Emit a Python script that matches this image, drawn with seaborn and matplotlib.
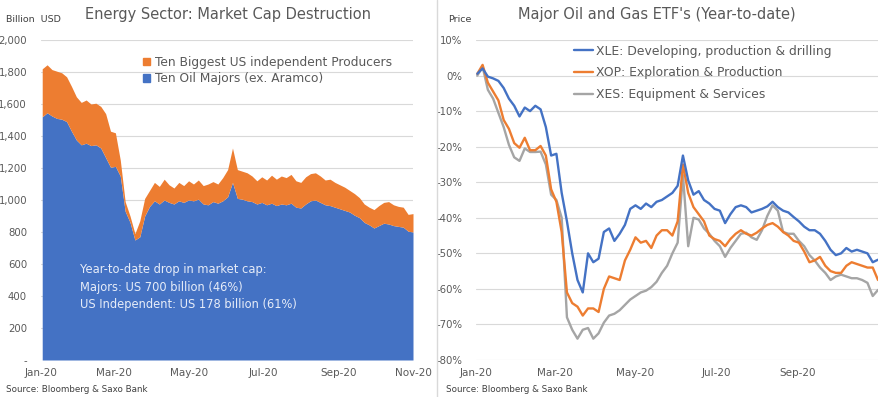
import pandas as pd
import seaborn as sns
import matplotlib.pyplot as plt
import matplotlib.dates as mdates
from matplotlib.ticker import FuncFormatter, MultipleLocator
from matplotlib.lines import Line2D
from matplotlib.patches import Patch

# sample dates (every 4 days, Jan 2 - Nov 1 2020)
dates = pd.date_range('2020-01-02', periods=77, freq='4D')

# left chart: market cap, billion USD (stacked)
total_cap = [1820, 1845, 1815, 1805, 1795, 1770, 1710, 1645, 1610, 1625,
             1600, 1605, 1585, 1540, 1430, 1420, 1250, 990, 900, 790,
             870, 1010, 1060, 1110, 1085, 1130, 1095, 1075, 1110, 1090,
             1120, 1100, 1125, 1090, 1100, 1115, 1100, 1140, 1190, 1325,
             1190, 1180, 1170, 1150, 1120, 1145, 1125, 1155, 1130, 1150,
             1140, 1160, 1120, 1110, 1145, 1165, 1170, 1150, 1125, 1130,
             1110, 1095, 1080, 1060, 1040, 1015, 975, 955, 940, 965,
             985, 990, 970, 960, 955, 910, 915]
majors_cap = [1520, 1545, 1525, 1510, 1505, 1490, 1430, 1375, 1345, 1355,
              1340, 1345, 1325, 1265, 1205, 1210, 1150, 930, 860, 750,
              770, 900, 960, 995, 975, 1000, 985, 975, 995, 985,
              1000, 995, 1005, 975, 970, 990, 980, 995, 1020, 1110,
              1010, 1005, 995, 990, 975, 985, 970, 980, 965, 975,
              970, 980, 955, 950, 975, 995, 1000, 985, 970, 965,
              955, 945, 935, 925, 905, 890, 860, 845, 825, 840,
              855, 850, 840, 835, 830, 805, 800]

# right chart: ETF price change year-to-date, %
xle = [0.5, 2.0, -0.3, -0.8, -1.5, -3.5, -6.5, -8.5, -11.5, -9.0,
       -10.0, -8.5, -9.5, -14.5, -22.5, -22.0, -33.0, -41.0, -50.0, -57.5,
       -61.0, -50.0, -52.5, -51.5, -44.0, -43.0, -46.5, -44.5, -42.0, -37.5,
       -36.5, -37.5, -36.0, -37.0, -35.5, -35.0, -34.0, -33.0, -31.0, -22.5,
       -29.5, -33.5, -32.5, -35.0, -36.0, -37.5, -38.0, -41.5, -39.0, -37.0,
       -36.5, -37.0, -38.5, -38.0, -37.5, -36.8, -35.5, -37.0, -38.0, -38.5,
       -39.8, -41.0, -42.5, -43.5, -43.5, -44.5, -46.5, -49.0, -50.5, -50.0,
       -48.5, -49.5, -49.0, -49.5, -50.0, -52.5, -51.8]
xop = [0.5, 3.0, -2.0, -4.5, -7.0, -12.5, -15.0, -19.0, -20.3, -17.5,
       -21.0, -21.0, -19.8, -22.5, -32.0, -35.5, -44.0, -61.0, -64.0, -65.0,
       -67.5, -65.5, -65.5, -66.5, -60.0, -56.5, -57.0, -57.5, -52.0, -49.0,
       -45.5, -47.0, -46.5, -48.5, -45.0, -43.5, -43.5, -45.0, -41.0, -25.0,
       -33.0, -37.0, -39.0, -41.0, -45.0, -46.0, -46.5, -48.0, -46.0, -44.5,
       -43.5, -44.5, -45.0, -44.2, -43.0, -42.0, -41.5, -42.5, -44.0, -45.0,
       -46.5, -47.0, -49.5, -52.5, -52.0, -51.0, -53.5, -55.0, -55.5, -55.5,
       -53.5, -52.5, -53.0, -53.5, -54.0, -54.0, -57.5]
xes = [0.0, 2.5, -4.0, -6.5, -10.5, -14.5, -19.5, -23.0, -24.0, -20.5,
       -21.5, -21.5, -21.4, -25.0, -33.5, -35.0, -40.0, -68.0, -71.5, -74.0,
       -71.5, -71.0, -74.0, -72.5, -69.5, -67.5, -67.0, -66.0, -64.5, -63.0,
       -62.0, -61.0, -60.5, -59.5, -58.0, -55.5, -53.5, -50.0, -47.0, -28.0,
       -48.0, -40.0, -40.5, -43.0, -44.5, -46.5, -48.0, -51.0, -48.5, -46.5,
       -44.5, -44.2, -45.5, -46.2, -43.5, -39.5, -36.5, -38.0, -44.0, -44.5,
       -44.5, -46.5, -48.0, -50.5, -52.0, -54.0, -55.5, -57.5, -56.5, -56.0,
       -56.5, -57.0, -57.0, -57.5, -58.3, -62.0, -60.3]

etf_names = ['XLE: Developing, production & drilling',
             'XOP: Exploration & Production',
             'XES: Equipment & Services']

BLUE = '#4472C4'
ORANGE = '#ED7D31'
GREY = '#A5A5A5'
TXT = '#595959'

sns.set_style('white')
plt.rcParams['font.family'] = ['DejaVu Sans']

fig = plt.figure(figsize=(8.8, 3.97), dpi=100)
ax0 = fig.add_axes([41/880, 1-360/397, 372/880, 320/397])
ax1 = fig.add_axes([476/880, 1-360/397, 402/880, 320/397])

# ---- left: stacked area
ax0.fill_between(dates, 0, majors_cap, color=BLUE, lw=0, zorder=2)
ax0.fill_between(dates, majors_cap, total_cap, color=ORANGE, lw=0, zorder=2)
ax0.set_ylim(0, 2000)
ax0.yaxis.set_major_locator(MultipleLocator(200))
ax0.yaxis.set_major_formatter(FuncFormatter(lambda v, p: '-' if v == 0 else f'{v:,.0f}'))
ax0.set_xlim(pd.Timestamp('2020-01-01'), pd.Timestamp('2020-11-01'))
ax0.set_xticks(pd.to_datetime(['2020-01-01', '2020-03-01', '2020-05-01',
                               '2020-07-01', '2020-09-01', '2020-11-01']))
ax0.xaxis.set_major_formatter(mdates.DateFormatter('%b-%y'))
ax0.legend(handles=[Patch(color=ORANGE, label='Ten Biggest US independent Producers'),
                    Patch(color=BLUE, label='Ten Oil Majors (ex. Aramco)')],
           loc='upper left', bbox_to_anchor=(0.245, 0.985), frameon=False,
           fontsize=8.8, handlelength=0.6, handleheight=0.6, handletextpad=0.4,
           labelspacing=0.3, labelcolor=TXT)
ax0.text(0.105, 0.152, 'Year-to-date drop in market cap:\nMajors: US 700 billion (46%)\n'
         'US Independent: US 178 billion (61%)', transform=ax0.transAxes,
         color='#E6ECF8', fontsize=8.3, linespacing=1.45, va='bottom', zorder=3)

# ---- right: ETF lines
etf = pd.DataFrame({'date': list(dates) * 3,
                    'value': xle + xop + xes,
                    'etf': [etf_names[0]] * len(dates) + [etf_names[1]] * len(dates)
                           + [etf_names[2]] * len(dates)})
sns.lineplot(data=etf, x='date', y='value', hue='etf', hue_order=etf_names[::-1],
             palette={etf_names[0]: BLUE, etf_names[1]: ORANGE, etf_names[2]: GREY},
             lw=1.7, ax=ax1, legend=False)
ax1.set_ylim(-80, 10)
ax1.yaxis.set_major_locator(MultipleLocator(10))
ax1.yaxis.set_major_formatter(FuncFormatter(lambda v, p: f'{v:.0f}%'))
ax1.set_xlim(pd.Timestamp('2020-01-01'), pd.Timestamp('2020-11-01'))
ax1.set_xticks(pd.to_datetime(['2020-01-01', '2020-03-01', '2020-05-01',
                               '2020-07-01', '2020-09-01']))
ax1.xaxis.set_major_formatter(mdates.DateFormatter('%b-%y'))
ax1.set_xlabel('')
ax1.set_ylabel('')
ax1.legend(handles=[Line2D([], [], color=c, lw=1.7, label=n)
                    for c, n in zip([BLUE, ORANGE, GREY], etf_names)],
           loc='upper left', bbox_to_anchor=(0.215, 1.02), frameon=False,
           fontsize=8.9, handlelength=1.6, handletextpad=0.2,
           labelspacing=0.7, labelcolor=TXT)

for ax in (ax0, ax1):
    ax.grid(axis='y', color='#D9D9D9', lw=0.8, zorder=0)
    ax.set_axisbelow(True)
    sns.despine(ax=ax, left=True, bottom=True)
    ax.tick_params(length=0, labelsize=7.5, colors=TXT, pad=6)
    ax.tick_params(axis='y', labelsize=7.3, pad=10)

# titles and labels
fig.text(228/880, 1-14/397, 'Energy Sector: Market Cap Destruction', ha='center', va='center',
         fontsize=10.5, color=TXT)
fig.text(657/880, 1-14/397, "Major Oil and Gas ETF's (Year-to-date)", ha='center', va='center',
         fontsize=10.5, color=TXT)
fig.text(6/880, 1-19/397, 'Billion  USD', fontsize=6.8, color='#404040', va='center')
fig.text(448/880, 1-19/397, 'Price', fontsize=6.8, color='#404040', va='center')
fig.text(6/880, 1-389/397, 'Source: Bloomberg & Saxo Bank', fontsize=6.3, color='#404040', va='center')
fig.text(446/880, 1-389/397, 'Source: Bloomberg & Saxo Bank', fontsize=6.3, color='#404040', va='center')
fig.add_artist(Line2D([437/880, 437/880], [0, 1], color='#D9D9D9', lw=1))

fig.savefig('out.png', dpi=100)
